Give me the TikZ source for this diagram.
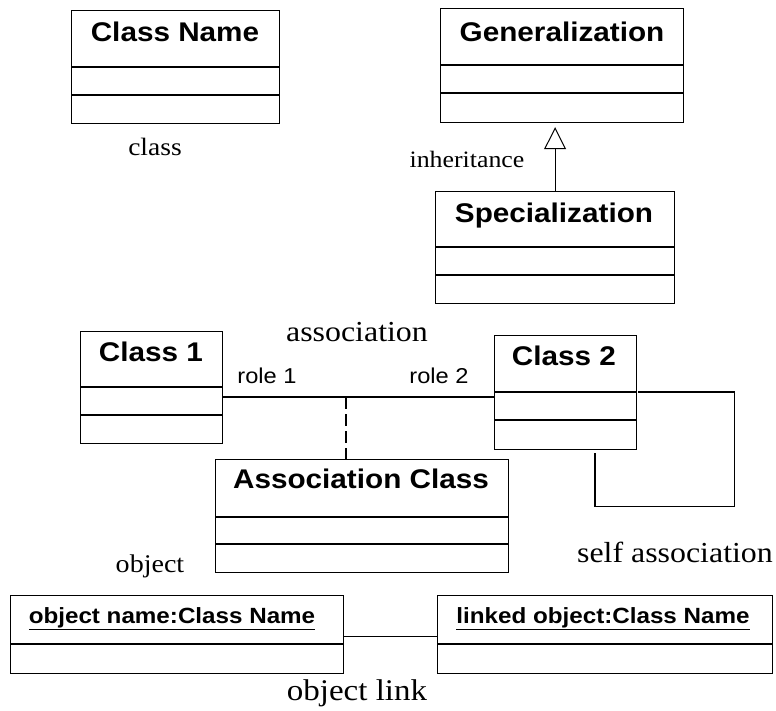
\documentclass[tikz,border=0pt]{standalone}
\usepackage{fontspec}
\setmainfont{Liberation Serif}[FakeStretch=1.1]
\newfontfamily\umlsans{Liberation Sans}[FakeStretch=1.1]
\usetikzlibrary{arrows.meta, calc, positioning}

\begin{document}
\begin{tikzpicture}[x=1pt, y=-1pt, line width=1.2pt,
    classbox/.style={draw, rectangle, anchor=north west, inner sep=0pt},
    classtitle/.style={anchor=base, inner sep=0pt, font=\umlsans\bfseries\fontsize{27}{31}\selectfont},
    objtitle/.style={anchor=base, inner sep=0pt, font=\umlsans\bfseries\fontsize{22}{26}\selectfont},
    rolelabel/.style={anchor=base, inner sep=0pt, font=\umlsans\fontsize{21.5}{25}\selectfont},
    caption/.style={anchor=base, inner sep=0pt, font=\fontsize{25}{29}\selectfont},
    bigcaption/.style={caption, font=\fontsize{29}{33}\selectfont}]
    \useasboundingbox (0,0) rectangle (776,710);

    % Class boxes
    \node[classbox, minimum width=208pt, minimum height=113pt] (clsname) at (71,10) {};
    \node[classbox, minimum width=243pt, minimum height=114pt] (genl) at (440,8) {};
    \node[classbox, minimum width=239pt, minimum height=112pt] (spec) at (435,191) {};
    \node[classbox, minimum width=142pt, minimum height=112pt] (cls1) at (80,331) {};
    \node[classbox, minimum width=142pt, minimum height=114pt] (cls2) at (494,335) {};
    \node[classbox, minimum width=293pt, minimum height=113pt] (assoccls) at (215,459) {};

    % Object boxes
    \node[classbox, minimum width=333pt, minimum height=78pt] (obj1) at (10,595) {};
    \node[classbox, minimum width=335pt, minimum height=78pt] (obj2) at (437,595) {};

    % Compartment lines
    \foreach \b/\da/\db in {clsname/57/85, genl/57/85, spec/56/84, cls1/56/84, cls2/57/85, assoccls/58/85} {
        \draw ($(\b.north west)+(0,\da)$) -- ($(\b.north east)+(0,\da)$);
        \draw ($(\b.north west)+(0,\db)$) -- ($(\b.north east)+(0,\db)$);
    }
    \foreach \b in {obj1, obj2}
        \draw ($(\b.north west)+(0,49)$) -- ($(\b.north east)+(0,49)$);

    % Titles
    \node[classtitle] (clsnametitle) at (175,41) {Class Name};
    \node[classtitle] (genltitle) at (562,41) {Generalization};
    \node[classtitle] (spectitle) at (554,222) {Specialization};
    \node[classtitle] (cls1title) at (151,361) {Class 1};
    \node[classtitle] (cls2title) at (564,365) {Class 2};
    \node[classtitle] (assocclstitle) at (361,488) {Association Class};
    \node[objtitle] (obj1title) at (172,623) {\underline{object name:Class Name}};
    \node[objtitle] (obj2title) at (603,623) {\underline{linked object:Class Name}};

    % Inheritance
    \draw[-{Triangle[open, length=22pt, width=22pt, line width=1pt]}, shorten >=4pt] (spec.north) -- (spec.north |- genl.south);

    % Association with association class
    \coordinate (assocmid) at (346,397);
    \draw (cls1.east |- assocmid) -- (cls2.west |- assocmid);
    \draw[dash pattern=on 12pt off 5pt] (assocmid) -- (assocmid |- assoccls.north);
    \node[rolelabel] (role1) at (267,383) {role 1};
    \node[rolelabel] (role2) at (439,383) {role 2};

    % Self association
    \draw ($(cls2.north east)+(1,57)$) -- ++(96,0) |- ($(cls2.south west)+(101,56)$) -- ($(cls2.south west)+(101,3)$);

    % Object link
    \draw ([yshift=-2pt]obj1.east) -- ([yshift=-2pt]obj2.west);

    % Captions
    \node[caption] (classlbl) at (155,155) {class};
    \node[caption, font=\fontsize{23.5}{27}\selectfont] (inhlbl) at (467,167) {inheritance};
    \node[bigcaption] (assoclbl) at (357,341) {association};
    \node[bigcaption] (selflbl) at (675,562) {self association};
    \node[caption, font=\fontsize{25.5}{29}\selectfont] (objlbl) at (150,572) {object};
    \node[bigcaption, font=\fontsize{30}{34}\selectfont] (linklbl) at (357,700) {object link};
\end{tikzpicture}
\end{document}
